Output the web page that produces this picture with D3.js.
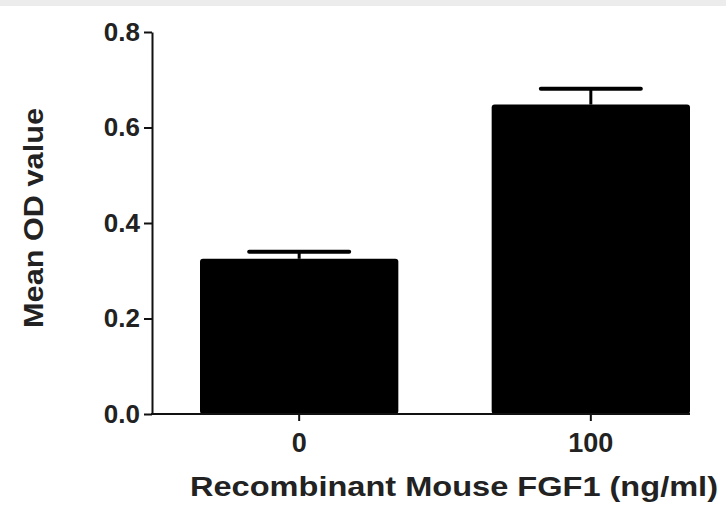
<!DOCTYPE html>
<html>
<head>
<meta charset="utf-8">
<script src="https://cdn.jsdelivr.net/npm/d3@7"></script>
<style>
body { margin: 0; background: #fff; }
svg { display: block; }
.tick text { font-family: "Liberation Sans", Arial, sans-serif; font-weight: bold; fill: #222; }
</style>
</head>
<body>
<svg id="SvgContainer"></svg>
<script>
var categories = ["0", "100"];
var meanValues = [0.325, 0.648];
var errorValues = [0.015, 0.033];
var yTicks = [0.0, 0.2, 0.4, 0.6, 0.8];

var width = 726;
var height = 507;
var axisLeft = 152;
var axisRight = 690;
var axisBottom = 414;
var axisTop = 32;

var svg = d3.select("svg")
    .attr("width", width)
    .attr("height", height);

// grey strip along the top edge
svg.append("rect")
    .attr("x", 0).attr("y", 0)
    .attr("width", width).attr("height", 6)
    .attr("fill", "#ececec");

var x = d3.scaleBand()
    .domain(categories)
    .range([200, 690])
    .paddingInner(0.32)
    .paddingOuter(0);

var y = d3.scaleLinear()
    .domain([0, 0.8])
    .range([axisBottom, axisTop]);

// bars
svg.selectAll(".bar")
    .data(meanValues)
    .enter()
    .append("rect")
    .attr("class", "bar")
    .attr("x", function (d, i) { return x(categories[i]); })
    .attr("y", function (d) { return y(d); })
    .attr("width", x.bandwidth())
    .attr("height", function (d) { return y(0) - y(d); })
    .attr("rx", 3)
    .attr("fill", "#000");

// error bars
var capHalf = 50;
svg.selectAll(".errLine")
    .data(meanValues)
    .enter()
    .append("line")
    .attr("x1", function (d, i) { return x(categories[i]) + x.bandwidth() / 2; })
    .attr("x2", function (d, i) { return x(categories[i]) + x.bandwidth() / 2; })
    .attr("y1", function (d) { return y(d); })
    .attr("y2", function (d, i) { return y(d + errorValues[i]); })
    .attr("stroke", "#000")
    .attr("stroke-width", 3);

svg.selectAll(".errCap")
    .data(meanValues)
    .enter()
    .append("line")
    .attr("x1", function (d, i) { return x(categories[i]) + x.bandwidth() / 2 - capHalf; })
    .attr("x2", function (d, i) { return x(categories[i]) + x.bandwidth() / 2 + capHalf; })
    .attr("y1", function (d, i) { return y(d + errorValues[i]); })
    .attr("y2", function (d, i) { return y(d + errorValues[i]); })
    .attr("stroke", "#000")
    .attr("stroke-width", 4)
    .attr("stroke-linecap", "round");

// y axis
var yAxis = svg.append("g")
    .attr("transform", "translate(" + axisLeft + ",0)")
    .call(d3.axisLeft(y)
        .tickValues(yTicks)
        .tickFormat(d3.format(".1f"))
        .tickSize(8)
        .tickSizeOuter(0)
        .tickPadding(4));
yAxis.selectAll("path, line").attr("stroke", "#111").attr("stroke-width", 2);
yAxis.selectAll("text").style("font-size", "26px");

// x axis
var xAxis = svg.append("g")
    .attr("transform", "translate(0," + axisBottom + ")")
    .call(d3.axisBottom(x).tickSize(7).tickSizeOuter(0).tickPadding(12));
xAxis.select(".domain").remove();
xAxis.selectAll("line").attr("stroke", "#111").attr("stroke-width", 2);
xAxis.selectAll("text").style("font-size", "27px");

svg.append("line")
    .attr("x1", axisLeft - 1)
    .attr("x2", axisRight)
    .attr("y1", axisBottom)
    .attr("y2", axisBottom)
    .attr("stroke", "#111")
    .attr("stroke-width", 2);

// axis titles
svg.append("text")
    .attr("x", 454)
    .attr("y", 496)
    .attr("text-anchor", "middle")
    .attr("textLength", 528)
    .attr("lengthAdjust", "spacingAndGlyphs")
    .style("font-family", "Liberation Sans, Arial, sans-serif")
    .style("font-weight", "bold")
    .style("font-size", "27px")
    .attr("fill", "#222")
    .text("Recombinant Mouse FGF1 (ng/ml)");

svg.append("text")
    .attr("transform", "translate(43,218) rotate(-90)")
    .attr("text-anchor", "middle")
    .attr("textLength", 220)
    .attr("lengthAdjust", "spacingAndGlyphs")
    .style("font-family", "Liberation Sans, Arial, sans-serif")
    .style("font-weight", "bold")
    .style("font-size", "28px")
    .attr("fill", "#222")
    .text("Mean OD value");
</script>
</body>
</html>
